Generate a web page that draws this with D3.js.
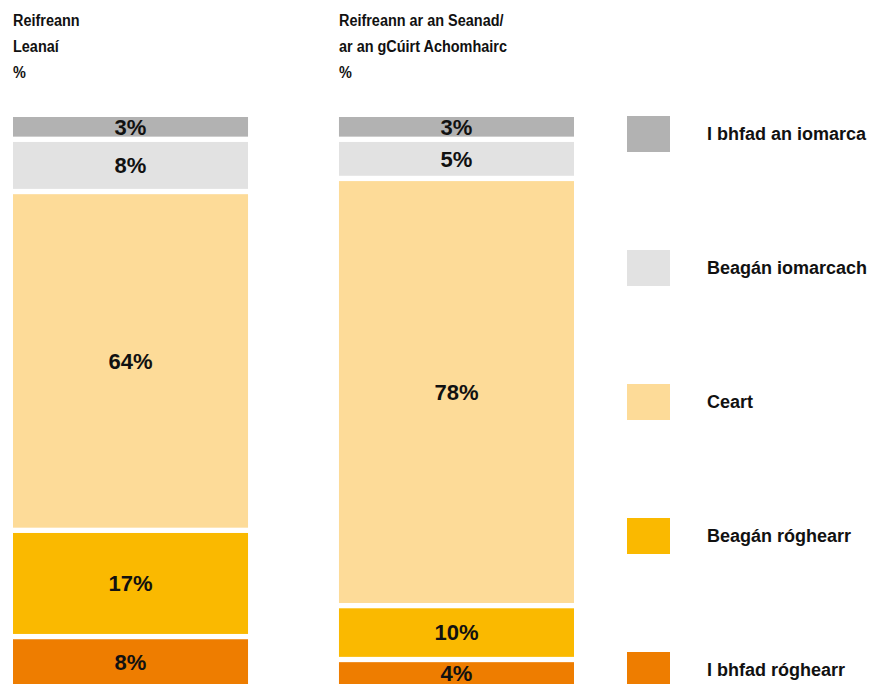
<!DOCTYPE html>
<html>
<head>
<meta charset="utf-8">
<script src="https://cdn.jsdelivr.net/npm/d3@7"></script>
<style>
  body { margin: 0; background: #fff; }
  svg { display: block; }
  .head { font-family: "Liberation Sans", Arial, sans-serif; font-weight: bold; font-size: 17px; fill: #111; }
  .seg-label { font-family: "Liberation Sans", Arial, sans-serif; font-weight: bold; font-size: 22px; fill: #111; }
  .legend text { font-family: "Liberation Sans", Arial, sans-serif; font-weight: bold; font-size: 18px; fill: #111; }
</style>
</head>
<body>
<svg width="872" height="684"></svg>
<script>
const svg = d3.select('svg');

// answer categories, top of the bar first
const categories = ['I bhfad an iomarca', 'Beagán iomarcach', 'Ceart', 'Beagán róghearr', 'I bhfad róghearr'];
const colors = ['#b2b2b2', '#e2e2e2', '#fddb98', '#fab900', '#ee7d00'];

const columns = ['Reifreann Leanaí', 'Reifreann ar an Seanad/ar an gCúirt Achomhairc'];
const headLines = [
    ['Reifreann', 'Leanaí', '%'],
    ['Reifreann ar an Seanad/', 'ar an gCúirt Achomhairc', '%']
];

// segment shares as drawn, and the percentages printed on them
const childrenValues = [3.6, 8.6, 61.1, 18.5, 8.2];
const childrenLabels = ['3%', '8%', '64%', '17%', '8%'];
const seanadValues = [3.6, 6.2, 77.3, 8.9, 4.0];
const seanadLabels = ['3%', '5%', '78%', '10%', '4%'];

const series = [
    {values: childrenValues, labels: childrenLabels},
    {values: seanadValues, labels: seanadLabels}
];

const barTop = 117;
const gap = 5.3;
const barBottom = 684;

const x = d3.scaleBand()
    .domain(columns)
    .range([13, 574])
    .paddingInner(0.279)
    .paddingOuter(0);

const h = d3.scaleLinear()
    .domain([0, 100])
    .range([0, barBottom - barTop - gap * (categories.length - 1)]);

const color = d3.scaleOrdinal().domain(categories).range(colors);

// headers (condensed look: squeeze horizontally)
columns.forEach((c, i) => {
    svg.append('g')
        .selectAll('text')
        .data(headLines[i])
        .enter().append('text')
        .attr('class', 'head')
        .attr('transform', (d, j) => `translate(${x(c)},${26 + j * 26}) scale(0.85,1)`)
        .text(d => d);
});

// stacked segments
columns.forEach((c, i) => {
    let y0 = barTop;
    const segs = series[i].values.map((v, j) => {
        const s = {cat: categories[j], y: y0, h: h(v), label: series[i].labels[j]};
        y0 += h(v) + gap;
        return s;
    });

    const g = svg.append('g').attr('class', 'bar');

    g.selectAll('rect')
        .data(segs)
        .enter().append('rect')
        .attr('x', x(c))
        .attr('y', d => d.y)
        .attr('width', x.bandwidth())
        .attr('height', d => d.h)
        .attr('fill', d => color(d.cat));

    g.selectAll('text')
        .data(segs)
        .enter().append('text')
        .attr('class', 'seg-label')
        .attr('x', x(c) + x.bandwidth() / 2)
        .attr('y', d => d.y + d.h / 2)
        .attr('text-anchor', 'middle')
        .attr('dy', '0.36em')
        .text(d => d.label);
});

// legend
const ly = d3.scalePoint().domain(categories).range([134, 670]);

const legend = svg.append('g')
    .attr('class', 'legend')
    .selectAll('g')
    .data(categories)
    .enter().append('g')
    .attr('transform', d => `translate(627,${ly(d)})`);

legend.append('rect')
    .attr('x', 0)
    .attr('y', -18)
    .attr('width', 43)
    .attr('height', 36)
    .attr('fill', d => color(d));

legend.append('text')
    .attr('x', 80)
    .attr('dy', '0.36em')
    .text(d => d);
</script>
</body>
</html>
